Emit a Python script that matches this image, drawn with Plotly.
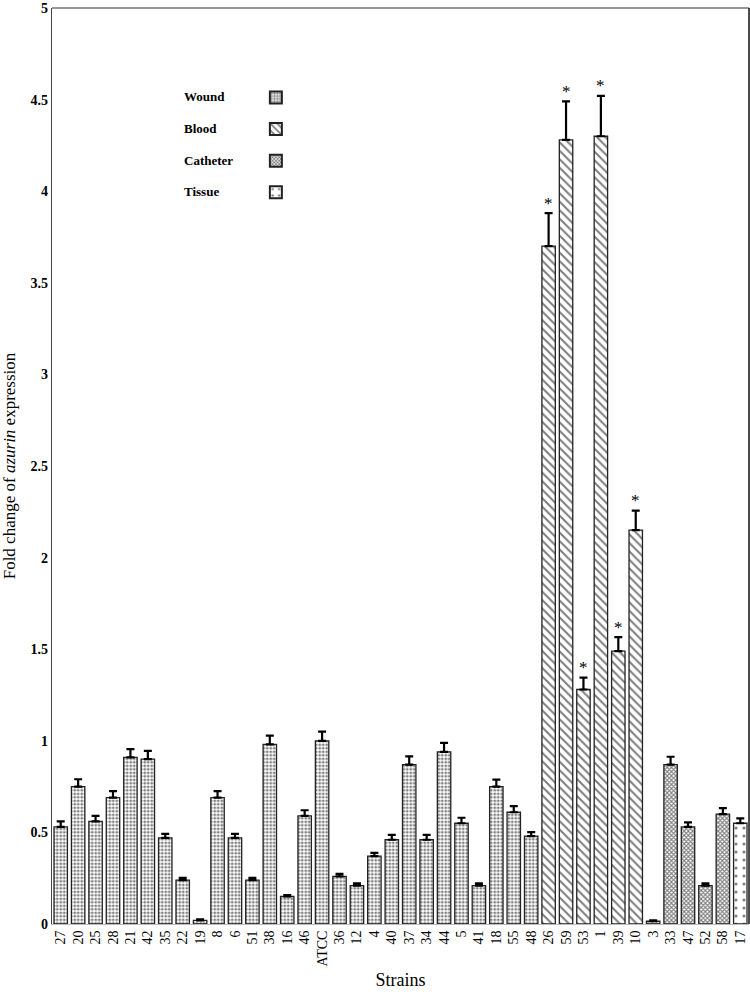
import plotly.graph_objects as go

# Strains in plotting order, fold change and upper error
strains = ["27", "20", "25", "28", "21", "42", "35", "22", "19", "8", "6", "51", "38", "16", "46",
           "ATCC", "36", "12", "4", "40", "37", "34", "44", "5", "41", "18", "55", "48",
           "26", "59", "53", "1", "39", "10",
           "3", "33", "47", "52", "58",
           "17"]
fold = [0.53, 0.75, 0.56, 0.69, 0.91, 0.90, 0.47, 0.24, 0.02, 0.69, 0.47, 0.24, 0.98, 0.15, 0.59,
        1.00, 0.26, 0.21, 0.37, 0.46, 0.87, 0.46, 0.94, 0.55, 0.21, 0.75, 0.61, 0.48,
        3.70, 4.28, 1.28, 4.30, 1.49, 2.15,
        0.015, 0.87, 0.53, 0.21, 0.60,
        0.55]
err = [0.03, 0.04, 0.03, 0.035, 0.045, 0.045, 0.022, 0.012, 0.005, 0.035, 0.022, 0.012, 0.048, 0.008, 0.031,
       0.05, 0.014, 0.012, 0.018, 0.027, 0.045, 0.027, 0.049, 0.03, 0.012, 0.038, 0.033, 0.021,
       0.18, 0.21, 0.065, 0.22, 0.076, 0.107,
       0.005, 0.043, 0.025, 0.012, 0.032,
       0.027]
source = ["Wound"] * 28 + ["Blood"] * 6 + ["Catheter"] * 5 + ["Tissue"] * 1
significant = ["26", "59", "53", "1", "39", "10"]

groups = ["Wound", "Blood", "Catheter", "Tissue"]
patterns = {
    "Wound": dict(shape=".", size=3.5, solidity=0.5, fgcolor="black", bgcolor="white"),
    "Blood": dict(shape="\\", size=6, solidity=0.35, fgcolor="black", bgcolor="white"),
    "Catheter": dict(shape="x", size=3, solidity=0.6, fgcolor="black", bgcolor="white"),
    "Tissue": dict(shape=".", size=8, solidity=0.12, fgcolor="black", bgcolor="white"),
}

serif = "Liberation Serif, Times New Roman, serif"

fig = go.Figure()
for g in groups:
    idx = [i for i, s in enumerate(source) if s == g]
    fig.add_trace(go.Bar(
        x=[strains[i] for i in idx],
        y=[fold[i] for i in idx],
        name=" ",
        marker=dict(color="white", pattern=patterns[g], line=dict(color="#222", width=1.3)),
        error_y=dict(type="data", array=[err[i] for i in idx], arrayminus=[0] * len(idx),
                     symmetric=False, color="black", thickness=2.2, width=4),
        showlegend=True,
        hoverinfo="skip",
    ))

# asterisks above significant strains (category index as x)
for s in significant:
    i = strains.index(s)
    fig.add_annotation(x=i, y=fold[i] + err[i], text="*", showarrow=False,
                       yshift=10, font=dict(family=serif, size=17, color="black"))

# legend labels (text sits left of the swatches)
for k, g in enumerate(groups):
    fig.add_annotation(xref="paper", yref="paper", x=0.187, y=0.903 - k * 0.0345,
                       text="<b>" + g + "</b>", showarrow=False,
                       xanchor="left", yanchor="middle",
                       font=dict(family=serif, size=13, color="black"))

fig.update_layout(
    width=750, height=996,
    margin=dict(l=52, r=1, t=6, b=72),
    paper_bgcolor="white", plot_bgcolor="white",
    barmode="overlay", bargap=0.23,
    font=dict(family=serif, color="black"),
    legend=dict(x=0.2925, y=0.925, xanchor="left", yanchor="top",
                font=dict(family=serif, size=22), bgcolor="rgba(0,0,0,0)",
                itemsizing="constant"),
    xaxis=dict(
        type="category", categoryorder="array", categoryarray=strains,
        tickmode="array", tickvals=strains, ticktext=strains,
        tickangle=-90, ticks="",
        tickfont=dict(family=serif, size=14, color="black"),
        showline=True, linecolor="#bbb", linewidth=1, mirror=False,
        title=dict(text="Strains", font=dict(family=serif, size=18), standoff=8),
    ),
    yaxis=dict(
        range=[0, 5.0001], tickvals=[0, 0.5, 1, 1.5, 2, 2.5, 3, 3.5, 4, 4.5, 5],
        ticktext=["0", "0.5", "1", "1.5", "2", "2.5", "3", "3.5", "4", "4.5", "5"],
        ticks="", showgrid=False, zeroline=False, ticklabeloverflow="allow",
        tickfont=dict(family=serif, size=14, color="black", weight="bold"),
        showline=True, linecolor="#444", linewidth=1.2,
        title=dict(text="Fold change of <i>azurin</i> expression",
                   font=dict(family=serif, size=17), standoff=12),
    ),
    shapes=[
        dict(type="line", xref="paper", yref="paper", x0=0, x1=1, y0=1, y1=1,
             line=dict(color="#333", width=1.2)),
        dict(type="line", xref="paper", yref="paper", x0=1, x1=1, y0=0, y1=1,
             line=dict(color="#111", width=1.5)),
    ],
)

fig.write_html("out.html", config={"displayModeBar": False},
               post_script="document.body.style.margin='0';document.body.style.overflow='hidden';")
